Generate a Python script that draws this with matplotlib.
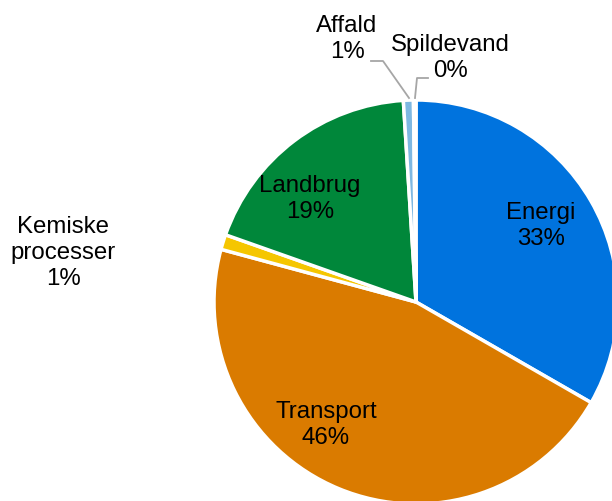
import matplotlib
matplotlib.use("Agg")
import matplotlib.pyplot as plt

plt.rcParams['font.family'] = ['Liberation Sans', 'DejaVu Sans']

# Emissions by sector (share of total, %)
sectors = ['Energi', 'Transport', 'Kemiske\nprocesser', 'Landbrug', 'Affald', 'Spildevand']
shares = [33.3, 45.9, 1.2, 18.6, 0.8, 0.2]
colors = ['#0073DE', '#DA7B00', '#F5C600', '#00873A', '#7EB8E2', '#4F6B8A']

# pixel geometry of the canvas: pie centre and radius
W, H = 612, 501
CX, CY, R = 416, 302, 202


def px(x, y):
    """pixel position -> data coordinates (pie radius = 1)"""
    return (x - CX) / R, (CY - y) / R


fig = plt.figure(figsize=(W / 100, H / 100), dpi=100)
ax = fig.add_axes([0, 0, 1, 1])
ax.pie(shares, colors=colors, startangle=90, counterclock=False, radius=1,
       wedgeprops=dict(edgecolor='white', linewidth=2.5))
ax.set_xlim(px(0, 0)[0], px(W, 0)[0])
ax.set_ylim(px(0, H)[1], px(0, 0)[1])
ax.set_aspect('equal')
ax.axis('off')

label_pos = [(541, 226), (326, 425), (63, 253), (310, 199), (347, 39), (450, 58)]
for name, val, (x, y) in zip(sectors, shares, label_pos):
    ax.text(*px(x, y), f'{name}\n{val:.0f}%', ha='center', va='center',
            fontsize=17.3, linespacing=1.25, color='black')

# leader lines for the two thin slices
grey = '#A6A6A6'
for pts in ([(371, 61), (383, 61), (409, 98)], [(428, 78), (417, 78), (415, 98)]):
    xs, ys = zip(*[px(x, y) for x, y in pts])
    ax.plot(xs, ys, color=grey, lw=1.3)

fig.savefig('out.png', dpi=100)
